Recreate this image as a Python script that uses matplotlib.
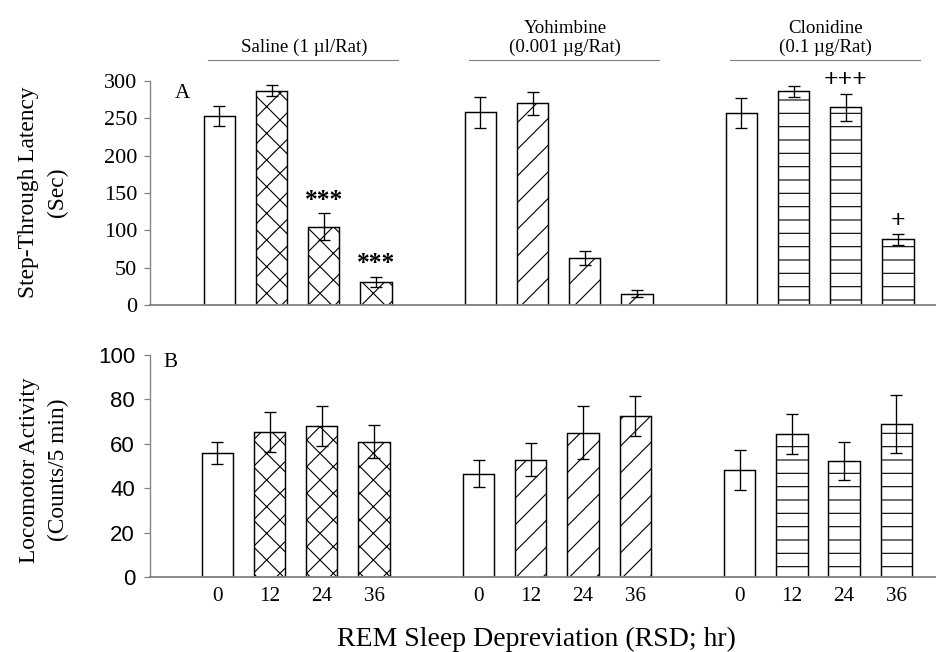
import matplotlib
matplotlib.use("Agg")
import matplotlib.pyplot as plt
import numpy as np

# data
group_titles = ["Saline (1 \u00b5l/Rat)", "Yohimbine\n(0.001 \u00b5g/Rat)", "Clonidine\n(0.1 \u00b5g/Rat)"]
rsd_hours = ["0", "12", "24", "36"]

latency_mean = [253, 287, 105, 31, 258, 270, 63, 15, 257, 286, 265, 88]
latency_sem = [13, 7, 18, 7, 21, 15, 9, 4.5, 20, 7, 18, 7]

locomotor_mean = [56, 65.4, 68, 61, 46.5, 52.8, 65, 72.7, 48, 64.5, 52.3, 68.8]
locomotor_sem = [5, 9, 9, 7.5, 6, 7.5, 12, 9, 9, 9, 8.5, 13]

# significance marks on panel A (bar index -> symbol)
latency_marks = {2: "***", 3: "***", 10: "+++", 11: "+"}

group_hatches = ["x", "/", "-"]

SERIF = ["Liberation Serif", "DejaVu Serif"]
SANS = ["Liberation Sans", "DejaVu Sans"]
AXIS_GREY = "#808080"

plt.rcParams["hatch.linewidth"] = 1.0
plt.rcParams["hatch.color"] = "black"

DPI = 80
W, H = 936, 652
fig = plt.figure(figsize=(W / DPI, H / DPI), dpi=DPI)


def px_axes(left, bottom, right, top):
    return fig.add_axes([left / W, (H - bottom) / H, (right - left) / W, (bottom - top) / H])


ax_a = px_axes(150, 305, 936, 81)
ax_b = px_axes(150, 577, 936, 355)

# bar positions: 4 bars per group, one empty slot between groups
x = np.array([g * 5 + i for g in range(3) for i in range(4)])
hatches = ["" if i == 0 else group_hatches[g] for g in range(3) for i in range(4)]


def draw_bars(ax, means, sems):
    for xi, m, h in zip(x, means, hatches):
        ax.bar(xi, m, width=0.6, color="white", edgecolor="black",
               linewidth=1.3, hatch=h, zorder=2)
    ax.errorbar(x, means, yerr=sems, fmt="none", ecolor="black",
                elinewidth=1.2, capsize=5.4, capthick=1.2, zorder=3)
    for side in ["top", "right"]:
        ax.spines[side].set_visible(False)
    for side in ["left", "bottom"]:
        ax.spines[side].set_color(AXIS_GREY)
    ax.spines["left"].set_linewidth(1.2)
    ax.spines["bottom"].set_linewidth(1.6)
    ax.tick_params(axis="y", direction="out", length=5.4, width=1.1, color=AXIS_GREY)


# panel A
draw_bars(ax_a, latency_mean, latency_sem)
ax_a.set_xlim(-1.33, 13.73)
ax_a.set_ylim(0, 300)
ax_a.set_yticks(np.arange(0, 301, 50))
ax_a.tick_params(axis="y", pad=6)
ax_a.set_xticks([])
for lbl in ax_a.get_yticklabels():
    lbl.set_family(SERIF)
    lbl.set_fontsize(20)

for i, sym in latency_marks.items():
    ax_a.text(x[i], latency_mean[i] + latency_sem[i] + 17, sym, ha="center", va="center",
              fontsize=23, fontweight="bold", family=SERIF)

ax_a.text(0.041, 0.946, "A", transform=ax_a.transAxes, ha="center", va="center",
          fontsize=19, family=SERIF)

# group headers with grey rule underneath
trans = ax_a.get_xaxis_transform()
for g, title in enumerate(group_titles):
    start, end = g * 5, g * 5 + 3
    ax_a.plot([start - 0.22, end + 0.43], [1.094, 1.094], transform=trans,
              color=AXIS_GREY, linewidth=1.0, clip_on=False)
    ax_a.text((start + end) / 2 + 0.12, 1.112, title, transform=trans, ha="center",
              va="bottom", fontsize=17, family=SERIF, linespacing=1.15)

# panel B
draw_bars(ax_b, locomotor_mean, locomotor_sem)
ax_b.set_xlim(-1.29, 13.76)
ax_b.set_ylim(0, 100)
ax_b.set_yticks(np.arange(0, 101, 20))
ax_b.tick_params(axis="y", pad=8)
ax_b.set_xticks(x)
ax_b.set_xticklabels(rsd_hours * 3)
ax_b.tick_params(axis="x", length=0, pad=9)
for lbl in ax_b.get_yticklabels():
    lbl.set_family(SANS)
    lbl.set_fontsize(20)
for lbl in ax_b.get_xticklabels():
    lbl.set_family(SERIF)
    lbl.set_fontsize(19)

ax_b.text(0.026, 0.968, "B", transform=ax_b.transAxes, ha="center", va="center",
          fontsize=19, family=SERIF)

# axis titles
fig.text(43 / W, (H - 192) / H, "Step-Through Latency\n(Sec)", rotation=90,
         ha="center", va="center", multialignment="center", fontsize=21,
         family=SERIF, linespacing=1.45)
fig.text(44 / W, (H - 470) / H, "Locomotor Activity\n(Counts/5 min)", rotation=90,
         ha="center", va="center", multialignment="center", fontsize=21,
         family=SERIF, linespacing=1.45)
fig.text(536 / W, (H - 639) / H, "REM Sleep Depreviation (RSD; hr)", ha="center",
         va="center", fontsize=25, family=SERIF)

fig.savefig("out.png", dpi=DPI)
